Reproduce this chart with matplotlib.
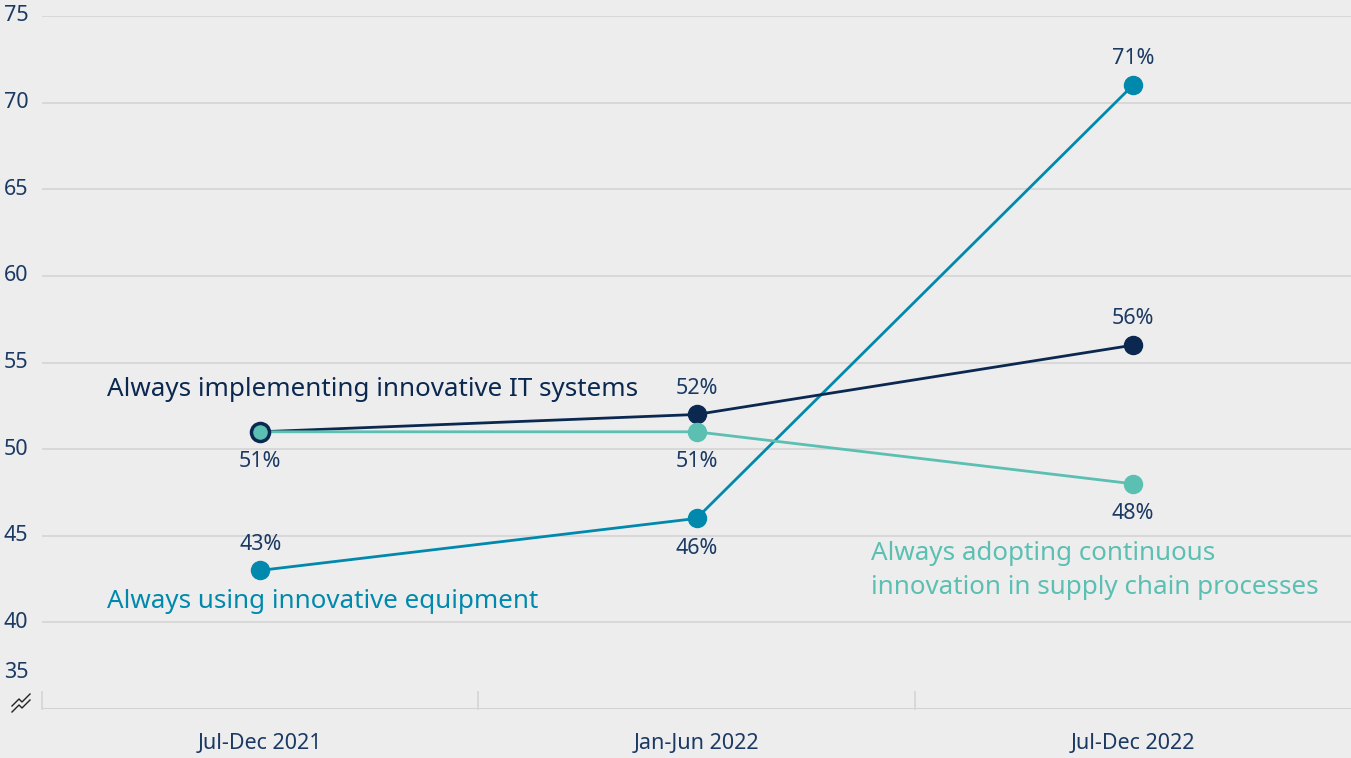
import matplotlib.pyplot as plt
from matplotlib.lines import Line2D

periods = ["Jul-Dec 2021", "Jan-Jun 2022", "Jul-Dec 2022"]
it_systems = [51, 52, 56]
equipment = [43, 46, 71]
supply_chain = [51, 51, 48]
y_ticks = [40, 45, 50, 55, 60, 65, 70, 75]

BG = "#EDEDED"
NAVY = "#0B2850"
BLUE = "#0089AD"
TEAL = "#5BBFB2"
TEXT = "#1B3A63"
GRID = "#D6D6D6"

plt.rcParams["font.family"] = ["Noto Sans", "DejaVu Sans"]

W, H = 1351, 758
fig = plt.figure(figsize=(W / 100, H / 100), dpi=100, facecolor=BG)
ax = fig.add_axes([42 / W, (H - 709) / H, 1 - 42 / W, (709 - 16) / H])
ax.set_facecolor(BG)

x = list(range(len(periods)))
ax.set_xlim(-0.5, 2.5)
ax.set_ylim(35, 75)

# grid lines
for yv in y_ticks:
    ax.axhline(yv, color=GRID, lw=1.3, zorder=0)
ax.axhline(35, color="#CFCFCF", lw=2, zorder=0)

# category separators on the baseline
for xv in [-0.5, 0.5, 1.5]:
    ax.plot([xv, xv], [35, 36], color=GRID, lw=1.3, clip_on=False, zorder=0)

for s in ax.spines.values():
    s.set_visible(False)
ax.set_xticks(x)
ax.set_xticklabels(periods, fontsize=15.5, color=TEXT)
ax.tick_params(axis="x", length=0, pad=17)
ax.set_yticks([])

# y labels sit at the left edge of the figure
ylab = ax.get_yaxis_transform()
for yv in y_ticks:
    ax.text(-42 / (W - 42) + 4 / (W - 42), yv, str(yv), transform=ylab,
            fontsize=15.5, color=TEXT, ha="left", va="center", clip_on=False)
fig.text(4 / W, 1 - 672 / H, "35", fontsize=15.5, color=TEXT, ha="left", va="center")

# axis break mark
for dy in (0, 6):
    pts = [(12, 706 + dy), (19, 699 + dy), (22, 702 + dy), (30, 694 + dy)]
    fig.add_artist(Line2D([p[0] / W for p in pts], [1 - p[1] / H for p in pts],
                          transform=fig.transFigure, color="#222222", lw=1))

ms = 13
ax.plot(x, equipment, color=BLUE, lw=2, marker="o", ms=ms, zorder=3)
ax.plot(x, it_systems, color=NAVY, lw=2, marker="o", ms=ms, zorder=4)
ax.plot(x, supply_chain, color=TEAL, lw=2, marker="o", ms=ms, zorder=5)
ax.plot(x[:1], it_systems[:1], ls="none", marker="o", ms=ms, mfc="none",
        mec=NAVY, mew=2.5, zorder=6)

# value labels
def label(xi, val, above):
    ax.annotate(f"{val}%", (xi, val), xytext=(0, 19 if above else -21.5),
                textcoords="offset points", ha="center", va="center",
                fontsize=15.5, color=TEXT)

label(0, it_systems[0], False)
label(1, it_systems[1], True)
label(2, it_systems[2], True)
label(0, equipment[0], True)
label(1, equipment[1], False)
label(2, equipment[2], True)
label(1, supply_chain[1], False)
label(2, supply_chain[2], False)

# series names
ax.text(-0.352, 53.45, "Always implementing innovative IT systems", color=NAVY,
        fontsize=18.7, ha="left", va="center")
ax.text(-0.352, 41.2, "Always using innovative equipment", color=BLUE,
        fontsize=18.7, ha="left", va="center")
ax.text(1.401, 43.0, "Always adopting continuous\ninnovation in supply chain processes",
        color=TEAL, fontsize=18.7, ha="left", va="center", linespacing=1.45)

fig.savefig("out.png", dpi=100, facecolor=BG)
